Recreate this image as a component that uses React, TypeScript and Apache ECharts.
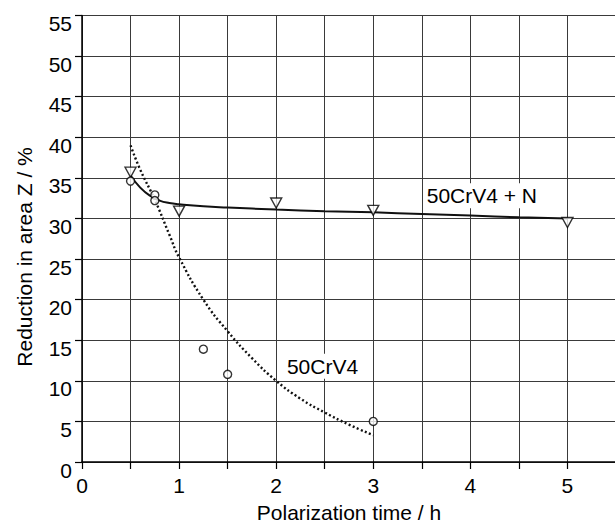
import React, { useEffect, useRef } from "react";
import * as echarts from "echarts";

// Measured points: 50CrV4 + N (open down-triangles)
const nitridedPts: [number, number][] = [
  [0.5, 35.7],
  [1, 30.9],
  [2, 31.9],
  [3, 31.0],
  [5, 29.5],
];
// Measured points: 50CrV4 (open circles)
const plainPts: [number, number][] = [
  [0.5, 34.6],
  [0.75, 32.9],
  [0.75, 32.2],
  [1.25, 13.9],
  [1.5, 10.8],
  [3, 5.0],
];
// Fitted curve 50CrV4 + N (solid)
const nitridedFit: [number, number][] = [
  [0.5, 35.3],
  [0.6, 33.8],
  [0.7, 32.8],
  [0.8, 32.2],
  [0.9, 31.9],
  [1, 31.75],
  [1.25, 31.5],
  [1.5, 31.35],
  [2, 31.1],
  [2.5, 30.9],
  [3, 30.75],
  [3.5, 30.55],
  [4, 30.35],
  [4.5, 30.15],
  [5, 30.0],
];
// Fitted curve 50CrV4 (dotted)
const plainFit: [number, number][] = [
  [0.5, 39.0],
  [0.6, 36.0],
  [0.75, 32.3],
  [0.9, 28.0],
  [1, 25.2],
  [1.25, 20.0],
  [1.5, 16.1],
  [1.75, 12.8],
  [2, 10.0],
  [2.25, 7.8],
  [2.5, 6.1],
  [2.75, 4.6],
  [3, 3.3],
];
const seriesLabels = ["50CrV4 + N", "50CrV4"];
const labelAnchors: [number, number][] = [
  [3.53, 32.8],
  [2.09, 11.8],
];
const xTitle = "Polarization time / h";
const yTitle = "Reduction in area Z / %";

const FONT = "Liberation Sans, Arial, Helvetica, sans-serif";

export default function App() {
  const ref = useRef<HTMLDivElement>(null);
  useEffect(() => {
    document.body.style.margin = "0";
    const chart = echarts.init(ref.current!, null, { renderer: "svg" });
    const gridLine = { show: true, lineStyle: { color: "#3a3a3a", width: 1 } };
    chart.setOption({
      animation: false,
      backgroundColor: "#fff",
      textStyle: { fontFamily: FONT, color: "#000" },
      grid: {
        left: 82,
        top: 15.5,
        right: -1,
        bottom: 62,
        containLabel: false,
        outerBoundsMode: "none",
      },
      xAxis: {
        type: "value",
        min: 0,
        max: 5.5,
        interval: 0.5,
        name: xTitle,
        nameLocation: "middle",
        nameGap: 40,
        nameTextStyle: { fontSize: 21, color: "#000", fontFamily: FONT, lineHeight: 21 },
        axisLine: { show: true, onZero: false, lineStyle: { color: "#000", width: 1.5 } },
        axisTick: { show: true, length: 7, lineStyle: { color: "#000", width: 1.2 } },
        axisLabel: {
          fontSize: 21,
          color: "#000",
          margin: 13,
          fontFamily: FONT,
          formatter: (v: number) => (Number.isInteger(v) ? String(v) : ""),
        },
        splitLine: gridLine,
      },
      yAxis: {
        type: "value",
        min: 0,
        max: 55,
        interval: 5,
        axisLine: { show: true, onZero: false, lineStyle: { color: "#000", width: 1.5 } },
        axisTick: { show: true, length: 7, lineStyle: { color: "#000", width: 1.2 } },
        axisLabel: {
          fontSize: 21,
          color: "#000",
          margin: 10,
          fontFamily: FONT,
          verticalAlign: "top",
          lineHeight: 16,
        },
        splitLine: gridLine,
      },
      series: [
        {
          type: "line",
          data: nitridedFit,
          smooth: true,
          showSymbol: false,
          lineStyle: { color: "#111", width: 2 },
          z: 2,
        },
        {
          type: "line",
          data: plainFit,
          smooth: true,
          showSymbol: false,
          lineStyle: { color: "#111", width: 2.4, type: [2, 2.4] },
          z: 2,
        },
        {
          type: "scatter",
          data: nitridedPts,
          symbol: "triangle",
          symbolRotate: 180,
          symbolSize: [11, 10],
          itemStyle: { color: "#fff", borderColor: "#000", borderWidth: 1.4 },
          z: 3,
        },
        {
          type: "scatter",
          data: plainPts,
          symbol: "circle",
          symbolSize: 8,
          itemStyle: { color: "#fff", borderColor: "#000", borderWidth: 1.4 },
          z: 3,
        },
      ],
    });
    const graphics: any[] = seriesLabels.map((t, i) => {
      const p = chart.convertToPixel({ gridIndex: 0 }, labelAnchors[i]) as number[];
      return {
        type: "text",
        x: p[0],
        y: p[1],
        z: 10,
        style: {
          text: t,
          fontSize: 21,
          fontFamily: FONT,
          fill: "#000",
          align: "left",
          verticalAlign: "middle",
          backgroundColor: "#fff",
          padding: [2, 2, 2, 2],
        },
      };
    });
    graphics.push({
      type: "text",
      x: 24,
      y: 257,
      rotation: Math.PI / 2,
      style: {
        text: yTitle,
        fontSize: 21,
        fontFamily: FONT,
        fill: "#000",
        align: "center",
        verticalAlign: "middle",
      },
    });
    chart.setOption({ graphic: graphics });
    return () => chart.dispose();
  }, []);
  return <div ref={ref} style={{ width: 615, height: 524 }} />;
}
